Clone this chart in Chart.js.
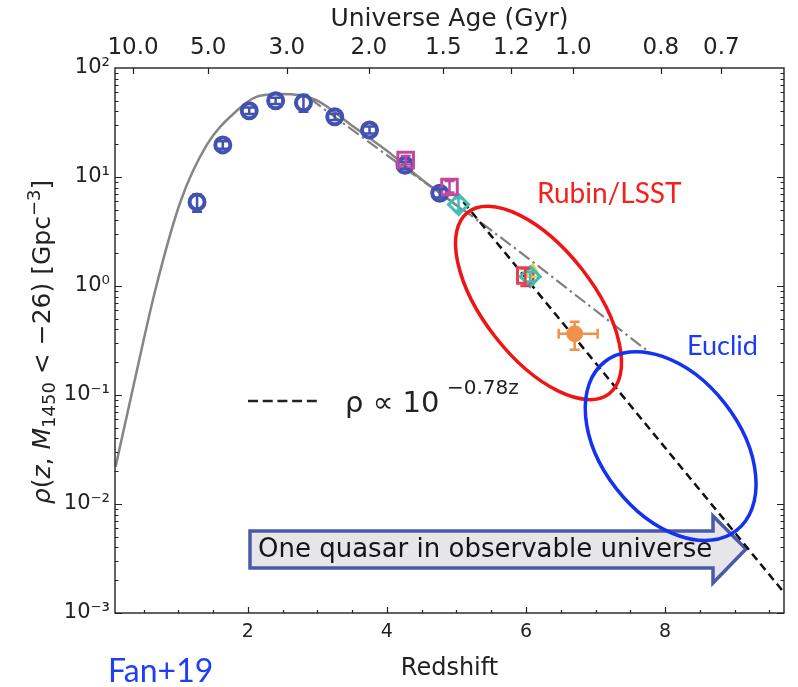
<!DOCTYPE html>
<html>
<head>
<meta charset="utf-8">
<script src="https://cdn.jsdelivr.net/npm/chart.js@4.4.1/dist/chart.umd.min.js"></script>
<style>
  html, body { margin: 0; padding: 0; background: #fff; }
  #wrap { width: 798px; height: 687px; position: relative; }
</style>
</head>
<body>
<div id="wrap"><canvas id="qlf"></canvas></div>
<script>
// ---- data ----
// SDSS-like blue circles
const sdssZ   = [1.27, 1.64, 2.02, 2.40, 2.80, 3.25, 3.75, 4.26, 4.76];
const sdssRho = [5.9, 19.7, 40.5, 50.0, 48.0, 35.7, 27.0, 12.8, 7.1];
const sdssLo  = [4.8, 18.2, 37.8, 46.8, 39.7, 33.4, 25.0, 11.8, 6.5];
const sdssHi  = [6.9, 21.3, 43.4, 53.4, 56.5, 38.1, 29.0, 13.8, 7.7];

// magenta open squares
const magZ   = [4.27, 4.90];
const magRho = [14.3, 8.1];
const magLo  = [13.0, 7.2];
const magHi  = [15.6, 9.2];

// cyan diamonds
const cyanZ   = [5.03, 6.06];
const cyanRho = [5.6, 1.22];
const cyanLo  = [4.9, 1.10];
const cyanHi  = [6.4, 1.35];

// z~6 red square + yellow marker
const redZ   = [5.99];
const redRho = [1.25];
const redLo  = [1.00];
const redHi  = [1.45];
const yelZ   = [6.10];
const yelRho = [1.32];

// z~6.7 orange point
const oraZ   = [6.70];
const oraRho = [0.365];
const oraLo  = [0.26];
const oraHi  = [0.47];
const oraZLo = [6.47];
const oraZHi = [7.03];

// solid gray model curve
const fitZ   = [0.10, 0.14, 0.36, 0.67, 1.03, 1.41, 1.84, 2.13, 2.46, 2.75, 3.0, 3.5, 4.0, 4.5, 5.0, 5.1];
const fitRho = [0.022, 0.029, 0.125, 0.92, 5.9, 19.7, 40.5, 54.6, 57.7, 56.0, 50.1, 29.5, 17.4, 9.5, 5.5, 4.9];

// dash-dot gray curve
const ddZ   = [2.9, 3.37, 4.13, 5.43, 7.73];
const ddRho = [52.0, 31.2, 13.8, 3.5, 0.259];

// black dashed power law  rho ~ 10^(-0.78 z)
const plZ   = [5.1, 9.71];
const plRho = [5.9, 0.00154];

// axes
const zTicks = [2, 4, 6, 8];
const ageTickZ = [0.35, 1.43, 2.56, 3.74, 4.81, 5.79, 6.68, 7.94, 8.81];
const ageTickLabels = ['10.0', '5.0', '3.0', '2.0', '1.5', '1.2', '1.0', '0.8', '0.7'];
const yDecades = [1e-3, 1e-2, 1e-1, 1, 10, 100];
const yDecadeLabels = ['10⁻³', '10⁻²', '10⁻¹', '10⁰', '10¹', '10²'];

// survey ellipses (centre in data units)
const rubinCenter = [6.18, 0.70];
const euclidCenter = [8.08, 0.034];

const pts = (xs, ys) => xs.map((x, i) => ({ x: x, y: ys[i] }));
const FONT = "'DejaVu Sans', sans-serif";
const LABEL = "Lato, 'Open Sans', sans-serif";

// error bars, drawn from yLo/yHi (and xLo/xHi) on each dataset
const errorBars = {
  id: 'errorBars',
  afterDatasetsDraw(chart) {
    const { ctx, scales: { x, y } } = chart;
    chart.data.datasets.forEach(ds => {
      if (!ds.yLo) return;
      ctx.save();
      ctx.strokeStyle = ds.borderColor;
      ctx.lineWidth = 2.5;
      ds.data.forEach((p, i) => {
        const px = x.getPixelForValue(p.x);
        const py = y.getPixelForValue(p.y);
        const lo = y.getPixelForValue(ds.yLo[i]);
        const hi = y.getPixelForValue(ds.yHi[i]);
        ctx.beginPath();
        ctx.moveTo(px, lo); ctx.lineTo(px, hi);
        ctx.moveTo(px - 5, lo); ctx.lineTo(px + 5, lo);
        ctx.moveTo(px - 5, hi); ctx.lineTo(px + 5, hi);
        if (ds.xLo) {
          const l = x.getPixelForValue(ds.xLo[i]);
          const r = x.getPixelForValue(ds.xHi[i]);
          ctx.moveTo(l, py); ctx.lineTo(r, py);
          ctx.moveTo(l, py - 5); ctx.lineTo(l, py + 5);
          ctx.moveTo(r, py - 5); ctx.lineTo(r, py + 5);
        }
        ctx.stroke();
      });
      ctx.restore();
    });
  }
};

// the "one quasar" arrow sits under the curves
const arrowBox = {
  id: 'arrowBox',
  beforeDatasetsDraw(chart) {
    const ctx = chart.ctx;
    ctx.save();
    ctx.beginPath();
    ctx.moveTo(250, 531);
    ctx.lineTo(713, 531);
    ctx.lineTo(713, 516);
    ctx.lineTo(746, 549);
    ctx.lineTo(713, 583);
    ctx.lineTo(713, 568);
    ctx.lineTo(250, 568);
    ctx.closePath();
    ctx.fillStyle = '#e6e6e8';
    ctx.fill();
    ctx.strokeStyle = '#4a5aa8';
    ctx.lineWidth = 3.5;
    ctx.stroke();
    ctx.fillStyle = '#151515';
    ctx.font = '26px ' + FONT;
    ctx.textBaseline = 'middle';
    ctx.fillText('One quasar in observable universe', 258, 550);
    ctx.restore();
  }
};

// ellipses, labels and the power-law key
const notes = {
  id: 'notes',
  afterDatasetsDraw(chart) {
    const { ctx, scales: { x, y } } = chart;
    ctx.save();
    ctx.lineWidth = 3.5;
    ctx.strokeStyle = '#f01414';
    ctx.beginPath();
    ctx.ellipse(x.getPixelForValue(rubinCenter[0]), y.getPixelForValue(rubinCenter[1]), 115, 55, 52 * Math.PI / 180, 0, 2 * Math.PI);
    ctx.stroke();
    ctx.strokeStyle = '#1432f0';
    ctx.beginPath();
    ctx.ellipse(x.getPixelForValue(euclidCenter[0]), y.getPixelForValue(euclidCenter[1]), 107, 69, 52 * Math.PI / 180, 0, 2 * Math.PI);
    ctx.stroke();

    ctx.textBaseline = 'alphabetic';
    ctx.fillStyle = '#f5201a';
    ctx.font = '28px ' + LABEL;
    ctx.fillText('Rubin/LSST', 537, 203);
    ctx.fillStyle = '#1a3cf5';
    ctx.font = '27px ' + LABEL;
    ctx.fillText('Euclid', 687, 355);

    // key for the dashed line
    ctx.strokeStyle = '#222';
    ctx.lineWidth = 2.5;
    ctx.setLineDash([10, 4.7]);
    ctx.beginPath();
    ctx.moveTo(248, 401); ctx.lineTo(318, 401);
    ctx.stroke();
    ctx.setLineDash([]);
    ctx.fillStyle = '#222';
    ctx.font = '29px ' + FONT;
    ctx.fillText('ρ ∝ 10', 345, 412);
    ctx.font = '20px ' + FONT;
    ctx.fillText('−0.78z', 447, 394);
    ctx.restore();
  },
  afterDraw(chart) {
    const ctx = chart.ctx;
    ctx.save();
    ctx.fillStyle = '#1f3ff0';
    ctx.font = '32px ' + LABEL;
    ctx.textBaseline = 'alphabetic';
    ctx.fillText('Fan+19', 108, 682);

    // y-axis label with real sub/superscripts, rotated
    const parts = [
      ['ρ', 'italic 25px', 0], ['(', '25px', 0], ['z', 'italic 25px', 0], [', ', '25px', 0],
      ['M', 'italic 25px', 0], ['1450', '18px', 5], [' < −26) [Gpc', '25px', 0],
      ['−3', '18px', -10], [']', '25px', 0]
    ];
    let total = 0;
    parts.forEach(p => { ctx.font = p[1] + ' ' + FONT; total += ctx.measureText(p[0]).width; });
    ctx.translate(42, 342);
    ctx.rotate(-Math.PI / 2);
    ctx.fillStyle = '#222';
    let cx = -total / 2;
    parts.forEach(p => {
      ctx.font = p[1] + ' ' + FONT;
      ctx.fillText(p[0], cx, 8 + p[2]);
      cx += ctx.measureText(p[0]).width;
    });
    ctx.restore();
  }
};

// frame and inward ticks (matplotlib style)
const frameTicks = {
  id: 'frameTicks',
  afterDraw(chart) {
    const { ctx, chartArea: a, scales: { x, y } } = chart;
    ctx.save();
    ctx.strokeStyle = '#222';
    ctx.lineWidth = 1.4;
    ctx.strokeRect(a.left, a.top, a.right - a.left, a.bottom - a.top);
    ctx.lineWidth = 1.2;
    ctx.beginPath();
    for (let v = 0.5; v < x.max; v += 0.5) {
      const px = Math.round(x.getPixelForValue(v)) + 0.5;
      const len = (v % 2 === 0) ? 6 : 3;
      ctx.moveTo(px, a.bottom); ctx.lineTo(px, a.bottom - len);
    }
    ageTickZ.forEach(v => {
      const px = Math.round(x.getPixelForValue(v)) + 0.5;
      ctx.moveTo(px, a.top); ctx.lineTo(px, a.top + 6);
    });
    for (let d = -3; d <= 1; d++) {
      for (let m = 1; m <= 9; m++) {
        const py = Math.round(y.getPixelForValue(m * Math.pow(10, d))) + 0.5;
        const len = m === 1 ? 7 : 3.5;
        ctx.moveTo(a.left, py); ctx.lineTo(a.left + len, py);
        ctx.moveTo(a.right, py); ctx.lineTo(a.right - len, py);
      }
    }
    ctx.stroke();
    ctx.restore();
  }
};

new Chart(document.getElementById('qlf'), {
  type: 'scatter',
  data: {
    datasets: [
      {
        label: 'model', data: pts(fitZ, fitRho), showLine: true, order: 10,
        borderColor: '#858585', borderWidth: 2.5, pointRadius: 0, cubicInterpolationMode: 'monotone'
      },
      {
        label: 'dash-dot', data: pts(ddZ, ddRho), showLine: true, order: 9,
        borderColor: '#808080', borderWidth: 2.2, borderDash: [13, 4, 2.5, 4], pointRadius: 0, cubicInterpolationMode: 'monotone'
      },
      {
        label: 'power law', data: pts(plZ, plRho), showLine: true, order: 8,
        borderColor: '#111', borderWidth: 2.5, borderDash: [8, 5], pointRadius: 0
      },
      {
        label: 'SDSS', data: pts(sdssZ, sdssRho), order: 1, yLo: sdssLo, yHi: sdssHi,
        pointStyle: 'circle', pointRadius: 7.5, borderWidth: 4,
        borderColor: '#4152b0', backgroundColor: 'rgba(0,0,0,0)'
      },
      {
        label: 'magenta', data: pts(magZ, magRho), order: 0, yLo: magLo, yHi: magHi,
        pointStyle: 'rect', pointRadius: 11, borderWidth: 3,
        borderColor: '#c2489e', backgroundColor: 'rgba(0,0,0,0)'
      },
      {
        label: 'cyan', data: pts(cyanZ, cyanRho), order: 0, yLo: cyanLo, yHi: cyanHi,
        pointStyle: 'rectRot', pointRadius: 10, borderWidth: 3,
        borderColor: '#3fbdb7', backgroundColor: 'rgba(0,0,0,0)'
      },
      {
        label: 'yellow', data: pts(yelZ, yelRho), order: 0,
        pointStyle: 'triangle', pointRadius: 8, borderWidth: 2.5,
        borderColor: '#e3cf4a', backgroundColor: 'rgba(0,0,0,0)'
      },
      {
        label: 'red', data: pts(redZ, redRho), order: 0, yLo: redLo, yHi: redHi,
        pointStyle: 'rect', pointRadius: 11, borderWidth: 3,
        borderColor: '#e2404e', backgroundColor: 'rgba(0,0,0,0)'
      },
      {
        label: 'orange', data: pts(oraZ, oraRho), order: 0, yLo: oraLo, yHi: oraHi, xLo: oraZLo, xHi: oraZHi,
        pointStyle: 'circle', pointRadius: 8, borderWidth: 1,
        borderColor: '#f0914a', backgroundColor: '#f0914a'
      }
    ]
  },
  options: {
    responsive: true,
    maintainAspectRatio: false,
    animation: false,
    layout: { padding: { left: 0, right: 13, top: 0, bottom: 0 } },
    plugins: { legend: { display: false }, tooltip: { enabled: false } },
    scales: {
      x: {
        type: 'linear', position: 'bottom', min: 0.09, max: 9.71,
        afterBuildTicks: s => { s.ticks = zTicks.map(v => ({ value: v })); },
        afterFit: s => { s.height = 74; },
        grid: { display: false, drawTicks: false },
        border: { display: false },
        ticks: { color: '#222', font: { family: FONT, size: 19 }, padding: 8, callback: v => String(v) },
        title: { display: true, text: 'Redshift', color: '#222', font: { family: FONT, size: 24 }, padding: { top: 0, bottom: 4 } }
      },
      x2: {
        type: 'linear', position: 'top', min: 0.09, max: 9.71,
        afterBuildTicks: s => { s.ticks = ageTickZ.map(v => ({ value: v })); },
        afterFit: s => { s.height = 68; },
        grid: { display: false, drawTicks: false },
        border: { display: false },
        ticks: { color: '#222', font: { family: FONT, size: 23 }, padding: 6, callback: (v, i) => ageTickLabels[i] },
        title: { display: true, text: 'Universe Age (Gyr)', color: '#222', font: { family: FONT, size: 25 }, padding: { top: 4, bottom: 0 } }
      },
      y: {
        type: 'logarithmic', min: 1e-3, max: 1e2,
        afterBuildTicks: s => { s.ticks = yDecades.map(v => ({ value: v })); },
        afterFit: s => { s.width = 115; },
        grid: { display: false, drawTicks: false },
        border: { display: false },
        ticks: { color: '#222', font: { family: FONT, size: 21 }, padding: 5, callback: (v, i) => yDecadeLabels[i] },
        title: { display: false }
      }
    }
  },
  plugins: [arrowBox, errorBars, notes, frameTicks]
});
</script>
</body>
</html>
